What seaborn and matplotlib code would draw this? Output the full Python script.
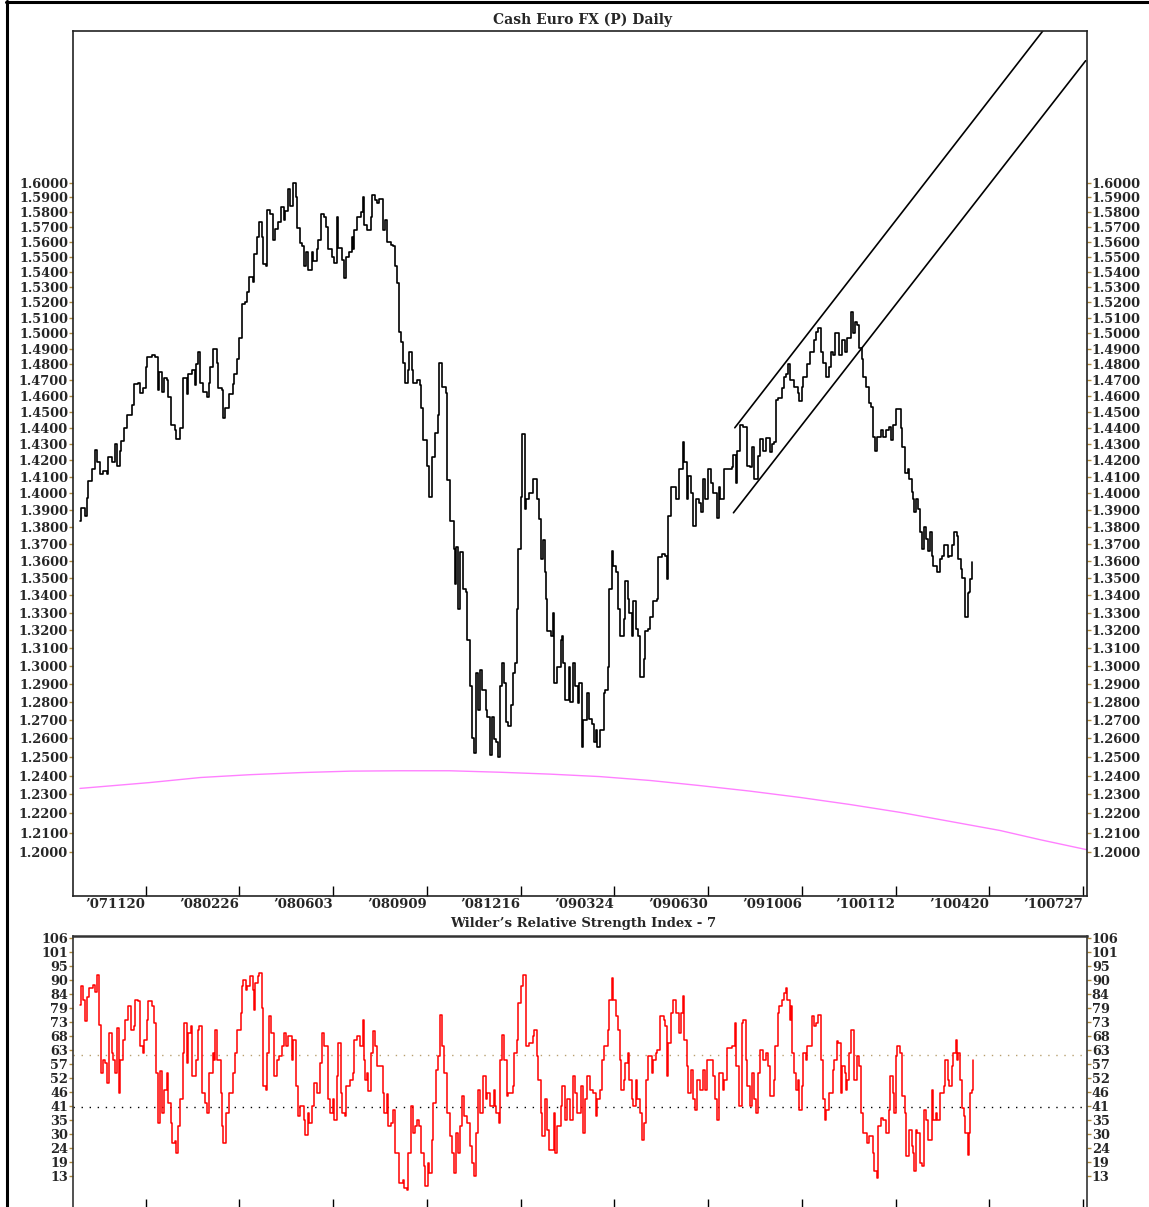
import matplotlib
matplotlib.use("Agg")
import matplotlib.pyplot as plt
from matplotlib.lines import Line2D
from matplotlib.ticker import FixedLocator, NullLocator, FixedFormatter
import numpy as np
import seaborn as sns

# daily bars, counted from the first close shown (Sep 2007)
price_bar = [
    0, 1, 4, 5, 6, 9, 11, 13, 15, 17,
    20, 21, 24, 26, 28, 30, 31, 33, 35, 39,
    40, 43, 45, 47, 49, 50, 54, 56, 58, 59,
    61, 63, 65, 66, 68, 71, 72, 75, 77, 80,
    81, 84, 86, 87, 88, 90, 92, 95, 96, 97,
    99, 102, 103, 106, 107, 108, 111, 114, 115, 117,
    119, 121, 123, 125, 126, 129, 130, 132, 134, 136,
    137, 139, 140, 142, 144, 146, 148, 150, 152, 153,
    155, 157, 159, 161, 162, 164, 166, 167, 169, 170,
    173, 174, 177, 178, 180, 182, 184, 185, 188, 190,
    192, 193, 196, 197, 199, 201, 203, 204, 205, 207,
    210, 211, 212, 214, 217, 218, 220, 222, 223, 226,
    228, 229, 232, 234, 235, 237, 238, 240, 241, 243,
    245, 246, 248, 249, 252, 254, 255, 256, 259, 261,
    263, 265, 267, 268, 270, 273, 274, 276, 279, 280,
    281, 282, 284, 286, 288, 289, 291, 293, 294, 296,
    297, 299, 300, 303, 304, 306, 308, 309, 311, 312,
    314, 315, 317, 318, 320, 322, 323, 325, 326, 327,
    329, 330, 332, 333, 335, 338, 339, 341, 343, 344,
    346, 347, 348, 349, 352, 353, 354, 356, 359, 360,
    361, 362, 365, 366, 368, 370, 372, 373, 375, 376,
    379, 380, 382, 384, 385, 386, 388, 391, 392, 394,
    395, 397, 398, 400, 402, 403, 406, 407, 409, 410,
    412, 413, 415, 417, 418, 421, 422, 424, 426, 428,
    431, 432, 435, 437, 438, 439, 441, 443, 445, 447,
    450, 451, 453, 454, 456, 458, 460, 462, 464, 465,
    467, 469, 471, 473, 476, 477, 478, 480, 481, 487,
    488, 490, 491, 493, 495, 498, 500, 502, 503, 506,
    508, 510, 512, 515, 517, 518, 520, 521, 524, 526,
    527, 529, 530, 533, 536, 537, 539, 540, 542, 543,
    545, 548, 550, 551, 553, 555, 557, 559, 561, 562,
    564, 565, 567, 569, 571, 573, 574, 576, 577, 579,
    580, 582, 584, 585, 587, 589, 591, 592, 594, 595,
    598, 600, 602, 604, 606, 607, 609, 611, 613, 614,
    616, 618, 619, 621, 622, 623, 624, 626, 627, 629,
    630, 632, 633, 635, 636, 637, 640, 642, 644, 645,
    648, 649, 651, 653, 655, 656, 658, 659, 661, 663,
    664, 665, 666,
]
price_close = [
    1.3835, 1.391, 1.3865, 1.3975, 1.4075, 1.4145, 1.4265, 1.419, 1.412, 1.4135,
    1.412, 1.422, 1.419, 1.430, 1.4165, 1.4255, 1.432, 1.440, 1.448, 1.4545,
    1.4675, 1.468, 1.462, 1.465, 1.4785, 1.4845, 1.486, 1.4845, 1.4635, 1.475,
    1.4625, 1.4715, 1.470, 1.4595, 1.442, 1.439, 1.433, 1.440, 1.4715, 1.461,
    1.4735, 1.4765, 1.467, 1.480, 1.4875, 1.468, 1.4625, 1.4595, 1.468, 1.478,
    1.4895, 1.481, 1.465, 1.4635, 1.446, 1.4525, 1.461, 1.4675, 1.4735, 1.483,
    1.497, 1.519, 1.520, 1.5265, 1.5365, 1.5335, 1.5515, 1.5635, 1.5735, 1.5635,
    1.545, 1.5435, 1.5815, 1.5785, 1.5615, 1.5685, 1.5735, 1.5835, 1.575, 1.5805,
    1.5955, 1.584, 1.600, 1.5905, 1.5695, 1.5595, 1.557, 1.5435, 1.553, 1.5415,
    1.553, 1.547, 1.555, 1.5615, 1.5785, 1.5765, 1.570, 1.555, 1.550, 1.546,
    1.577, 1.556, 1.548, 1.536, 1.550, 1.553, 1.563, 1.555, 1.568, 1.577,
    1.580, 1.590, 1.5715, 1.568, 1.5765, 1.592, 1.5885, 1.5865, 1.589, 1.568,
    1.575, 1.560, 1.558, 1.557, 1.5435, 1.5325, 1.5005, 1.494, 1.481, 1.468,
    1.4765, 1.4875, 1.4765, 1.468, 1.470, 1.467, 1.4525, 1.4325, 1.4165, 1.398,
    1.422, 1.437, 1.448, 1.481, 1.4655, 1.462, 1.408, 1.3835, 1.367, 1.3465,
    1.368, 1.332, 1.365, 1.3435, 1.342, 1.3145, 1.2885, 1.2605, 1.252, 1.296,
    1.2755, 1.2975, 1.2865, 1.2755, 1.2715, 1.251, 1.2715, 1.2595, 1.258, 1.250,
    1.2885, 1.3015, 1.2905, 1.269, 1.2665, 1.278, 1.296, 1.3015, 1.332, 1.367,
    1.398, 1.436, 1.3905, 1.3965, 1.4005, 1.4085, 1.4085, 1.3965, 1.3845, 1.361,
    1.3725, 1.3535, 1.338, 1.3195, 1.317, 1.330, 1.2905, 1.2995, 1.3145, 1.317,
    1.3015, 1.281, 1.2995, 1.280, 1.3015, 1.289, 1.2795, 1.2905, 1.2555, 1.270,
    1.285, 1.2705, 1.268, 1.258, 1.2645, 1.2555, 1.2645, 1.285, 1.2865, 1.2995,
    1.3435, 1.366, 1.357, 1.3535, 1.332, 1.317, 1.3265, 1.3485, 1.338, 1.330,
    1.317, 1.3365, 1.3205, 1.317, 1.294, 1.3035, 1.3195, 1.3205, 1.3275, 1.3365,
    1.338, 1.3625, 1.364, 1.363, 1.3495, 1.3865, 1.404, 1.404, 1.3965, 1.4145,
    1.4315, 1.419, 1.3965, 1.4105, 1.4005, 1.3805, 1.3965, 1.3945, 1.389, 1.4085,
    1.3965, 1.4145, 1.4065, 1.4005, 1.385, 1.404, 1.3965, 1.3965, 1.4145, 1.416,
    1.4235, 1.4065, 1.4255, 1.442, 1.4405, 1.4165, 1.416, 1.4285, 1.4085, 1.4225,
    1.433, 1.4255, 1.434, 1.425, 1.430, 1.431, 1.4575, 1.4585, 1.465, 1.472,
    1.4735, 1.480, 1.470, 1.4655, 1.462, 1.4565, 1.4655, 1.472, 1.472, 1.480,
    1.488, 1.4955, 1.5005, 1.503, 1.488, 1.481, 1.472, 1.478, 1.4875, 1.486,
    1.500, 1.500, 1.486, 1.4955, 1.488, 1.4965, 1.497, 1.5135, 1.500, 1.507,
    1.505, 1.4905, 1.483, 1.472, 1.4655, 1.4555, 1.453, 1.4345, 1.4255, 1.4345,
    1.439, 1.4345, 1.439, 1.4405, 1.4325, 1.442, 1.4515, 1.4515, 1.440, 1.4285,
    1.4125, 1.4145, 1.4085, 1.401, 1.3965, 1.389, 1.3965, 1.3905, 1.377, 1.367,
    1.380, 1.373, 1.3655, 1.377, 1.363, 1.357, 1.3535, 1.361, 1.363, 1.369,
    1.3625, 1.363, 1.369, 1.377, 1.3745, 1.361, 1.3555, 1.350, 1.3275, 1.3415,
    1.342, 1.3495, 1.3595,
]

# Wilder's RSI (7)
rsi_bar = [
    0, 1, 2, 4, 5, 7, 10, 11, 13, 14,
    16, 17, 19, 20, 22, 24, 25, 26, 28, 29,
    30, 32, 34, 36, 38, 40, 41, 43, 45, 47,
    48, 50, 51, 54, 55, 57, 58, 60, 61, 63,
    65, 66, 68, 69, 71, 72, 73, 75, 77, 78,
    80, 81, 83, 84, 87, 88, 89, 91, 93, 95,
    96, 99, 100, 101, 102, 105, 106, 107, 109, 111,
    114, 116, 117, 120, 121, 122, 124, 125, 127, 129,
    130, 131, 133, 134, 136, 137, 139, 140, 141, 143,
    145, 147, 149, 151, 152, 154, 155, 158, 159, 161,
    163, 164, 167, 168, 170, 171, 173, 175, 177, 179,
    181, 182, 184, 185, 187, 189, 190, 192, 193, 195,
    196, 198, 199, 202, 204, 205, 207, 209, 211, 212,
    213, 214, 215, 217, 219, 220, 222, 223, 226, 227,
    229, 230, 232, 234, 235, 238, 241, 242, 244, 245,
    247, 249, 250, 252, 253, 255, 257, 258, 260, 261,
    263, 264, 266, 267, 269, 270, 272, 274, 276, 278,
    279, 281, 282, 284, 285, 287, 289, 291, 293, 294,
    296, 297, 299, 301, 303, 304, 306, 309, 310, 311,
    313, 314, 315, 317, 319, 320, 323, 324, 326, 327,
    329, 331, 333, 335, 338, 339, 341, 342, 344, 345,
    347, 349, 350, 353, 354, 355, 356, 359, 360, 362,
    364, 366, 368, 370, 371, 374, 376, 377, 379, 381,
    383, 385, 386, 388, 390, 391, 394, 395, 397, 398,
    400, 402, 403, 404, 406, 407, 409, 410, 412, 413,
    415, 416, 418, 420, 421, 423, 424, 427, 428, 430,
    431, 433, 436, 437, 438, 439, 441, 443, 445, 447,
    449, 450, 451, 453, 454, 456, 458, 459, 461, 463,
    465, 467, 468, 471, 473, 474, 476, 477, 480, 481,
    483, 487, 489, 490, 492, 494, 495, 497, 498, 500,
    502, 503, 505, 506, 508, 510, 512, 514, 515, 518,
    519, 521, 522, 524, 526, 527, 528, 530, 531, 532,
    533, 535, 536, 537, 539, 540, 542, 543, 545, 547,
    548, 550, 551, 553, 555, 556, 557, 559, 560, 562,
    563, 565, 566, 568, 569, 571, 572, 573, 574, 576,
    577, 578, 580, 582, 583, 585, 586, 588, 589, 592,
    593, 595, 596, 598, 600, 602, 604, 605, 607, 608,
    609, 610, 612, 614, 616, 617, 619, 621, 622, 623,
    624, 625, 627, 629, 630, 632, 633, 636, 637, 639,
    640, 642, 645, 646, 648, 649, 651, 652, 654, 655,
    656, 657, 659, 660, 661, 663, 664, 665, 666, 667,
]
rsi_value = [
    79.9, 87, 81.8, 73.3, 83, 86.4, 87.7, 85, 91.6, 72,
    53.2, 58.4, 57, 49.3, 68.8, 61, 58.4, 53.2, 70.7, 45.4,
    58.4, 66.2, 74, 79.2, 70.1, 71.4, 81.8, 81.2, 63.6, 61,
    66.2, 74, 81.2, 79.2, 72.7, 53.2, 33.6, 53.8, 37.5, 46.7,
    53.2, 41.5, 33.6, 25.8, 26.5, 21.9, 32.3, 42.8, 61, 72.7,
    57, 68.8, 71.4, 51.9, 58.4, 70.1, 71.4, 45.4, 41.5, 37.5,
    53.2, 61, 58.4, 70.1, 58.4, 45.4, 32.3, 25.8, 37.5, 45.4,
    53.2, 61, 70.1, 76.6, 87, 89.6, 85.7, 87, 90.9, 85.7,
    77.9, 88.3, 90.9, 92.2, 78.6, 48, 46.7, 61, 75.3, 68.8,
    51.9, 58.4, 59.7, 63.6, 68.8, 63.6, 67.5, 58.4, 66.2, 48,
    36.2, 40.1, 34.9, 29.1, 37.5, 33.6, 40.1, 49.3, 45.4, 57,
    68.8, 63.6, 63.6, 42.8, 37.5, 42.8, 34.9, 51.9, 64.9, 45.4,
    37.5, 36.2, 48, 50.6, 53.2, 66.2, 67.5, 63.6, 74, 58.4,
    50.6, 53.2, 46, 61, 69.4, 63.6, 55.8, 55.8, 45.4, 37.5,
    45, 32.3, 33.6, 38.8, 21.9, 10.2, 11.5, 8.2, 7.6, 21.9,
    40.1, 29.7, 32.3, 34.9, 32.3, 21.9, 16.7, 8.9, 18, 14.1,
    27.1, 41.5, 54.5, 59.7, 76, 63.6, 53.2, 37.5, 28.4, 21.9,
    14.1, 29.7, 21.9, 32.3, 44.1, 36.2, 33.6, 24.5, 18, 12.8,
    29.7, 46.7, 37.5, 51.9, 42.8, 45.4, 40.1, 46.7, 40.1, 37.5,
    33.6, 58.4, 68.1, 58.4, 44.1, 45.4, 48, 61, 66.2, 80.5,
    87, 91.6, 63.6, 64.9, 67.5, 70.1, 59.7, 50.6, 37.5, 28.4,
    42.8, 31, 23.2, 23.2, 37.5, 21.9, 32.3, 40.1, 48, 34.9,
    42.8, 34.9, 51.9, 45.4, 37.5, 48, 29.7, 42.8, 51.9, 46.7,
    45.4, 36.2, 42.8, 46.7, 58.4, 63.6, 70.1, 81.8, 90.3, 81.8,
    75.3, 70.1, 58.4, 46.7, 50.6, 57, 61, 50.6, 42.8, 40.1,
    50.6, 42.8, 37.5, 27.1, 33.6, 50.6, 59.7, 53.2, 58.4, 61,
    62.3, 75.3, 74, 71.4, 51.9, 64.9, 76.6, 81.8, 76.6, 68.8,
    76.6, 83.1, 66.2, 55.8, 45.4, 54.5, 42.8, 38.8, 50.6, 46.7,
    54.5, 46.7, 58.4, 58.4, 51.9, 42.8, 34.9, 53.2, 46.7, 50.6,
    63, 63.6, 72.7, 55.8, 40.1, 72.7, 74, 58.4, 48, 40.1,
    53.2, 42.8, 37.5, 53.2, 62.3, 58.4, 61, 55.8, 44.1, 50.6,
    63.6, 76.6, 79.2, 81.8, 84.4, 86.4, 81.8, 74, 79.2, 61,
    53.2, 46.7, 50.6, 38.8, 48, 61, 58.4, 63.6, 63.6, 75.3,
    71.4, 72.7, 76, 58.4, 42.8, 34.9, 38.8, 45.4, 45.4, 54.5,
    58.4, 65.5, 64.9, 45.4, 55.8, 53.2, 46.7, 50.6, 61, 70.1,
    70.1, 50.6, 59.7, 55.8, 37.5, 29.7, 29.7, 25.8, 28.4, 21.9,
    14.8, 12.2, 32.3, 35.6, 34.9, 29.7, 38.8, 51.9, 45.4, 37.5,
    59.7, 63.6, 61, 44.1, 37.5, 20.6, 31, 24.5, 21.9, 14.8,
    31, 29.7, 18, 16.7, 38.8, 34.9, 27.1, 46.7, 34.9, 37.5,
    34.9, 45.4, 48, 58.4, 50.6, 48, 55.8, 61, 66.2, 58.4,
    61, 50.6, 39.5, 36.2, 29.7, 21.3, 29.7, 45.4, 46.7, 58.4,
]

# long smooth (magenta) curve
curve_bar = [0, 52, 90, 127, 164, 202, 239, 276, 314, 351, 388,
             426, 463, 500, 538, 575, 613, 650, 687, 717, 752]
curve_price = [1.2332, 1.2363, 1.2390, 1.2405, 1.2416, 1.2424, 1.2426,
               1.2426, 1.2418, 1.2408, 1.2395, 1.2374, 1.2347, 1.2318,
               1.2284, 1.2247, 1.2205, 1.2158, 1.2111, 1.2063, 1.2011]

# trend channel
upper_bar = [489, 719]
upper_price = [1.4401, 1.708]
lower_bar = [488, 751]
lower_price = [1.3884, 1.6863]

date_bar = [49, 119, 189, 259, 329, 399, 469, 539, 609, 679, 749]
date_labels = ["\u2019071120", "\u2019080226", "\u2019080603", "\u2019080909",
               "\u2019081216", "\u2019090324", "\u2019090630", "\u2019091006",
               "\u2019100112", "\u2019100420", "\u2019100727"]

price_ticks = [round(1.20 + 0.01 * i, 2) for i in range(41)]
rsi_labels = ["106", "101", "95", "90", "84", "79", "73", "68", "63",
              "57", "52", "46", "41", "35", "30", "24", "19", "13"]
rsi_ticks = list(np.linspace(106, 13, len(rsi_labels)))

sns.set_style("white")
plt.rcParams["font.family"] = ["DejaVu Serif"]
plt.rcParams["font.weight"] = "bold"

W, H = 1149, 1207
fig = plt.figure(figsize=(W / 100, H / 100), dpi=100)

ax = fig.add_axes([73 / W, 1 - 895.7 / H, 1014 / W, 864.7 / H])
ax2 = fig.add_axes([73 / W, 1 - 1209 / H, 1014 / W, 273 / H])

tick_col = "#b08a3c"

# --- price panel
sns.lineplot(x=curve_bar, y=curve_price, ax=ax, color="#ff80ff", lw=1.0,
             estimator=None, sort=False)
sns.lineplot(x=upper_bar, y=upper_price, ax=ax, color="black", lw=1.2,
             estimator=None, sort=False)
sns.lineplot(x=lower_bar, y=lower_price, ax=ax, color="black", lw=1.2,
             estimator=None, sort=False)
sns.lineplot(x=price_bar, y=price_close, ax=ax, color="black", lw=1.2,
             drawstyle="steps-post", estimator=None, sort=False)

ax.set_yscale("log")
ax.set_ylim(1.1776, 1.708)
ax.set_xlim(-5.2, 752)
ax.yaxis.set_major_locator(FixedLocator(price_ticks))
ax.yaxis.set_major_formatter(FixedFormatter(["%.4f" % t for t in price_ticks]))
ax.yaxis.set_minor_locator(NullLocator())
ax.set_xticks(date_bar)
ax.set_xticklabels(date_labels, ha="right")
ax.tick_params(axis="y", which="major", left=True, right=True,
               labelleft=True, labelright=True, direction="out",
               length=3, width=1, color=tick_col, labelsize=9.3, pad=0.5)
ax.tick_params(axis="x", bottom=True, direction="in", length=7, width=1,
               color="black", labelsize=9.5, pad=2)
ax.set_xlabel("")
ax.set_ylabel("")
for s in ax.spines.values():
    s.set_color("#222222")
    s.set_linewidth(1.2)

# --- RSI panel
ax2.axhline(60, color="#b8a070", lw=1.0, linestyle=(0, (1, 4.8)))
ax2.axhline(40, color="black", lw=1.0, linestyle=(0, (1, 4.8)))
sns.lineplot(x=rsi_bar, y=rsi_value, ax=ax2, color="#ff0000", lw=1.1,
             drawstyle="steps-post", estimator=None, sort=False)
ax2.set_xlim(-5.2, 752)
ax2.set_ylim(0, 106.7)
ax2.set_yticks(rsi_ticks)
ax2.set_yticklabels(rsi_labels)
ax2.set_xticks(date_bar)
ax2.set_xticklabels([])
ax2.tick_params(axis="y", left=True, right=True, labelleft=True,
                labelright=True, direction="out", length=3, width=1,
                color=tick_col, labelsize=9.3, pad=0.5)
ax2.tick_params(axis="x", bottom=True, direction="in", length=7, width=1,
                color="black")
ax2.set_xlabel("")
ax2.set_ylabel("")
for s in ax2.spines.values():
    s.set_color("#333333")
    s.set_linewidth(1.2)
ax2.spines["top"].set_linewidth(1.8)

fig.text(583 / W, 1 - 20 / H, "Cash Euro FX (P) Daily", ha="center",
         va="center", fontsize=10, fontweight="bold")
fig.text(583 / W, 1 - 924 / H, "Wilder\u2019s Relative Strength Index - 7",
         ha="center", va="center", fontsize=9.5, fontweight="bold")

# outer frame (top and left edges of the window)
fig.add_artist(Line2D([6 / W, 1], [1 - 1.5 / H, 1 - 1.5 / H],
                      transform=fig.transFigure, color="black", lw=2.2))
fig.add_artist(Line2D([7.3 / W, 7.3 / W], [0, 1 - 0.5 / H],
                      transform=fig.transFigure, color="black", lw=2.2))

fig.savefig("out.png", dpi=100)
